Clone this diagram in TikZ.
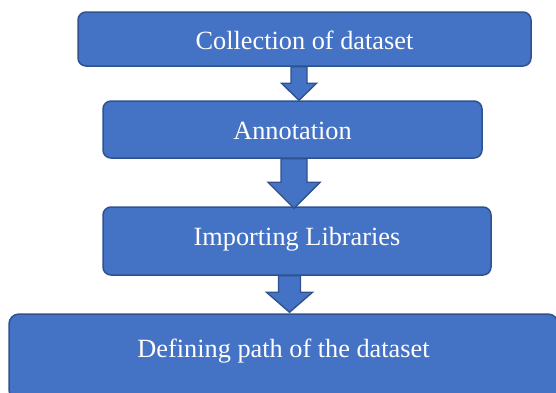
\documentclass[tikz,border=0pt]{standalone}
\usepackage{fontspec}
\setmainfont{Liberation Serif}
\usetikzlibrary{calc}

\definecolor{boxfill}{HTML}{4472C4}
\definecolor{boxline}{HTML}{2F528F}

% Block arrow pointing down: #1 start (bottom of upper box), #2 tip,
% #3 half shaft width, #4 half head width, #5 head length (all in pt)
\newcommand\flowarrow[5]{%
  \draw[arrowshape] let \p1=(#1), \p2=(#2) in
    (\x2-#3pt,\y1) -- (\x2-#3pt,\y2+#5pt) -- (\x2-#4pt,\y2+#5pt) --
    (\p2) -- (\x2+#4pt,\y2+#5pt) -- (\x2+#3pt,\y2+#5pt) --
    (\x2+#3pt,\y1) -- cycle;}

\begin{document}
\begin{tikzpicture}[x=1pt,y=-1pt,
  stagebox/.style={rectangle, rounded corners=8pt, fill=boxfill, draw=boxline,
    line width=1.5pt, text=white, inner sep=0pt,
    font=\fontsize{26.3}{30}\selectfont},
  arrowshape/.style={fill=boxfill, draw=boxline, line width=1.4pt, line join=miter}]
  \useasboundingbox (0,0) rectangle (556,392);

  % process stages
  \node[stagebox, minimum width=453pt, minimum height=54pt,
        text height=22pt, text depth=0.6pt] (b1) at (304.5,39) {Collection of dataset};
  \node[stagebox, minimum width=379pt, minimum height=57pt,
        text height=20pt, text depth=0.6pt] (b2) at (292.5,129.5) {Annotation};
  \node[stagebox, minimum width=388pt, minimum height=68pt,
        text height=18pt, text depth=8.6pt] (b3) at (297,241) {Importing Libraries};
  \node[stagebox, rounded corners=10pt, minimum width=549pt, minimum height=86pt,
        text height=18pt, text depth=16.6pt] (b4) at (283.5,357) {Defining path of the dataset};

  % arrow anchor points
  \path (b1.south) ++(-5.5,0) coordinate (a1s);
  \path (b2.north) ++(6.5,0)  coordinate (a1t);
  \path (b2.south) ++(1.5,0)  coordinate (a2s);
  \path (b3.north) ++(-3,2)   coordinate (a2t);
  \path (b3.south) ++(-8,0)   coordinate (a3s);
  \path (b4.north) ++(6,-1)   coordinate (a3t);

  % connecting block arrows
  \flowarrow{a1s}{a1t}{8}{17.5}{17}
  \flowarrow{a2s}{a2t}{13}{26}{26}
  \flowarrow{a3s}{a3t}{11}{23}{20}
\end{tikzpicture}
\end{document}
